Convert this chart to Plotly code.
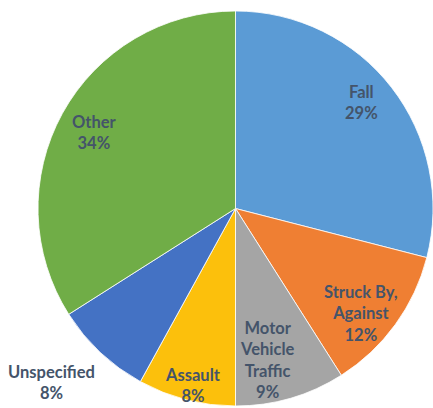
import math
import plotly.graph_objects as go

categories = ["Fall", "Struck By,<br>Against", "Motor<br>Vehicle<br>Traffic", "Assault", "Unspecified", "Other"]
values = [29, 12, 9, 8, 8, 34]
colors = ["#5b9bd5", "#ef7f33", "#a5a5a5", "#fcc00c", "#4472c4", "#70ad47"]
# label placement style: radial fraction and angular nudge (degrees)
label_radius = [0.832, 0.827, 0.786, 0.919, 1.283, 0.814]
label_nudge = [-2.4, 3.8, 4.4, -1.0, 3.3, -0.4]

W, H = 433, 408
cx, cy, R = 235.5, 208.5, 197.5

fig = go.Figure(go.Pie(
    labels=[c.replace("<br>", " ") for c in categories],
    values=values,
    sort=False,
    direction="clockwise",
    rotation=0,
    marker=dict(colors=colors, line=dict(color="#ffffff", width=0.8)),
    textinfo="none",
    hoverinfo="label+percent",
    domain=dict(x=[(cx - R) / W, min(1, (cx + R) / W)],
                y=[max(0, 1 - (cy + R) / H), 1 - (cy - R) / H]),
    showlegend=False,
))

total = sum(values)
cum = 0
annotations = []
for cat, v, f, nd in zip(categories, values, label_radius, label_nudge):
    mid = (cum + v / 2) / total * 2 * math.pi + math.radians(nd)
    cum += v
    px = cx + f * R * math.sin(mid)
    py = cy - f * R * math.cos(mid)
    pct = round(v / total * 100)
    annotations.append(dict(
        x=px / W, y=1 - py / H, xref="paper", yref="paper",
        text=f"{cat}<br>{pct}%", showarrow=False,
        font=dict(family="Lato", size=16.5, color="#44546a", weight="bold"),
        align="center", xanchor="center", yanchor="middle",
    ))

fig.update_layout(
    width=W, height=H,
    margin=dict(l=0, r=0, t=0, b=0),
    paper_bgcolor="#ffffff",
    plot_bgcolor="#ffffff",
    annotations=annotations,
)

fig.write_html("out.html",
               config={"displayModeBar": False},
               post_script="document.body.style.margin='0';document.body.style.overflow='hidden';")
